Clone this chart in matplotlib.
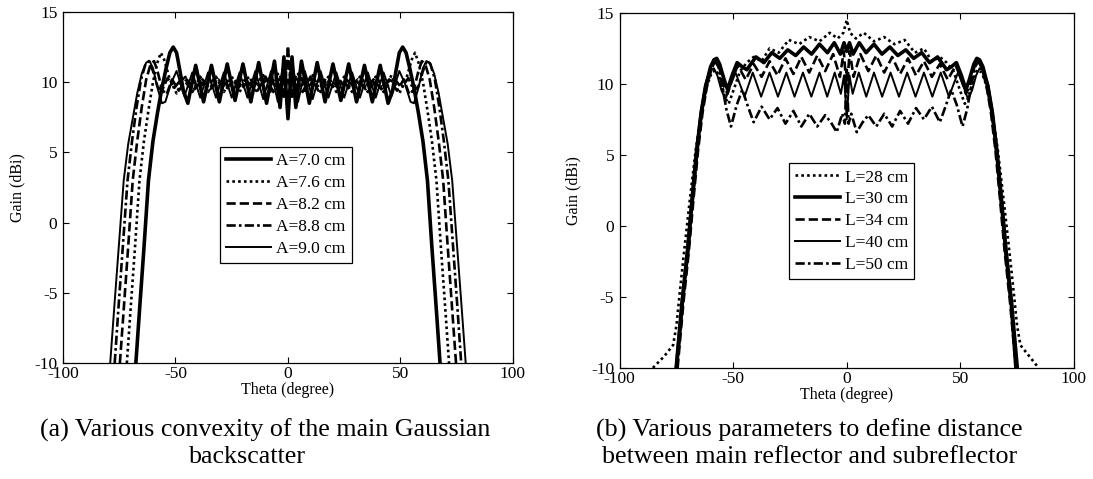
import matplotlib
matplotlib.use("Agg")
import matplotlib.pyplot as plt

plt.rcParams['font.family'] = ['Liberation Serif', 'DejaVu Serif']
plt.rcParams['axes.unicode_minus'] = False

# ---- (a) gain patterns for various convexity A ----
theta_a70 = [-67.6, -66, -64, -62, -60, -58, -56, -54, -52.5, -51, -49.5, -48, -46.5, -44.5, -41, -37.5, -34, -30.5, -27, -23.5, -20, -16.5, -13, -9.5, -6, -3.5, -1.8, 0,
             1.8, 3.5, 6, 9.5, 13, 16.5, 20, 23.5, 27, 30.5, 34, 37.5, 41, 44.5, 46.5, 48, 49.5, 51, 52.5, 54, 56, 58, 60, 62, 64, 66, 67.6]
gain_a70 = [-10, -6.3, -1.8, 3.0, 5.8, 7.8, 9.6, 11.1, 12.1, 12.5, 12.1, 10.8, 9.4, 8.5, 11.2, 8.6, 11.2, 8.6, 11.3, 8.7, 11.3, 8.6, 11.4, 8.5, 11.5, 8.2, 11.8, 7.4,
            11.8, 8.2, 11.5, 8.5, 11.4, 8.6, 11.3, 8.7, 11.3, 8.6, 11.2, 8.6, 11.2, 8.5, 9.4, 10.8, 12.1, 12.5, 12.1, 11.1, 9.6, 7.8, 5.8, 3.0, -1.8, -6.3, -10]

theta_a76 = [-71.6, -70, -68, -66, -64, -62, -60, -58, -56.5, -55, -52.5, -49.5, -46, -42.5, -39, -35.5, -32, -28.5, -25, -21.5, -18, -14.5, -11, -7.5, -4.5, -2.5, -1, 0,
             1, 2.5, 4.5, 7.5, 11, 14.5, 18, 21.5, 25, 28.5, 32, 35.5, 39, 42.5, 46, 49.5, 52.5, 55, 56.5, 58, 60, 62, 64, 66, 68, 70, 71.6]
gain_a76 = [-10, -6.3, -1.8, 3.0, 5.8, 8.0, 10.0, 11.4, 12.1, 11.6, 10.2, 9.2, 10.5, 9.3, 10.4, 9.3, 10.4, 9.3, 10.4, 9.3, 10.4, 9.3, 10.5, 9.2, 10.6, 9.0, 10.4, 12.3,
            10.4, 9.0, 10.6, 9.2, 10.5, 9.3, 10.4, 9.3, 10.4, 9.3, 10.4, 9.3, 10.4, 9.3, 10.5, 9.2, 10.2, 11.6, 12.1, 11.4, 10.0, 8.0, 5.8, 3.0, -1.8, -6.3, -10]

theta_a82 = [-74.7, -73, -71, -69, -67, -65, -63, -61, -59.5, -58, -56, -54, -51.5, -48.5, -45, -41.5, -38, -34.5, -31, -27.5, -24, -20.5, -17, -13.5, -10, -6.5, -3.5, -1.5, 0,
             1.5, 3.5, 6.5, 10, 13.5, 17, 20.5, 24, 27.5, 31, 34.5, 38, 41.5, 45, 48.5, 51.5, 54, 56, 58, 59.5, 61, 63, 65, 67, 69, 71, 73, 74.7]
gain_a82 = [-10, -6.2, -1.7, 3.0, 5.8, 8.2, 10.2, 11.3, 11.5, 10.8, 9.5, 9.1, 10.2, 9.4, 10.2, 9.5, 10.2, 9.5, 10.2, 9.5, 10.2, 9.5, 10.3, 9.4, 10.4, 9.3, 10.5, 8.8, 12.6,
            8.8, 10.5, 9.3, 10.4, 9.4, 10.3, 9.5, 10.2, 9.5, 10.2, 9.5, 10.2, 9.5, 10.2, 9.4, 10.2, 9.1, 9.5, 10.8, 11.5, 11.3, 10.2, 8.2, 5.8, 3.0, -1.7, -6.2, -10]

theta_a88 = [-77, -75.3, -73.3, -71.3, -69.3, -67.3, -65.3, -63.3, -61.8, -60, -58, -56, -53.5, -50.5, -47, -43.5, -40, -36.5, -33, -29.5, -26, -22.5, -19, -15.5, -12, -8.5, -5.5, -3, -1.2, 0,
             1.2, 3, 5.5, 8.5, 12, 15.5, 19, 22.5, 26, 29.5, 33, 36.5, 40, 43.5, 47, 50.5, 53.5, 56, 58, 60, 61.8, 63.3, 65.3, 67.3, 69.3, 71.3, 73.3, 75.3, 77]
gain_a88 = [-10, -6, -1.5, 3.0, 5.8, 8.2, 10.2, 11.3, 11.5, 10.8, 9.7, 9.4, 10.3, 9.6, 10.3, 9.6, 10.2, 9.6, 10.2, 9.6, 10.2, 9.6, 10.2, 9.6, 10.3, 9.5, 10.4, 9.3, 10.8, 11.5,
            10.8, 9.3, 10.4, 9.5, 10.3, 9.6, 10.2, 9.6, 10.2, 9.6, 10.2, 9.6, 10.2, 9.6, 10.3, 9.6, 10.3, 9.4, 9.7, 10.8, 11.5, 11.3, 10.2, 8.2, 5.8, 3.0, -1.5, -6, -10]

theta_a90 = [-79, -77, -75, -73, -71, -69, -67, -65, -63, -61.5, -60, -58, -56, -54.5, -52, -49.5, -46, -42.5, -39, -35.5, -32, -28.5, -25, -21.5, -18, -14.5, -11, -7.5, -4.5, -2.5, -1, 0,
             1, 2.5, 4.5, 7.5, 11, 14.5, 18, 21.5, 25, 28.5, 32, 35.5, 39, 42.5, 46, 49.5, 52, 54.5, 56, 58, 60, 61.5, 63, 65, 67, 69, 71, 73, 75, 77, 79]
gain_a90 = [-10, -5.6, -1.3, 3.0, 5.6, 7.4, 9.2, 10.6, 11.4, 11.5, 11.0, 9.6, 8.5, 8.6, 9.9, 10.8, 9.0, 10.7, 8.9, 10.7, 8.9, 10.7, 8.9, 10.7, 8.9, 10.8, 8.8, 10.8, 8.6, 10.9, 9.6, 10.2,
            9.6, 10.9, 8.6, 10.8, 8.8, 10.8, 8.9, 10.7, 8.9, 10.7, 8.9, 10.7, 8.9, 10.7, 9.0, 10.8, 9.9, 8.6, 8.5, 9.6, 11.0, 11.5, 11.4, 10.6, 9.2, 7.4, 5.6, 3.0, -1.3, -5.6, -10]

labels_a = ["A=7.0 cm", "A=7.6 cm", "A=8.2 cm", "A=8.8 cm", "A=9.0 cm"]

# ---- (b) gain patterns for various distance L ----
theta_l28 = [-85.4, -80.5, -76.5, -75, -73.5, -71.5, -69, -66.5, -64, -61.5, -59.5, -57.5, -55.5, -53.5, -52, -50, -47, -44, -41, -37.5, -34, -30, -25.5, -21, -16.5, -12, -7.5, -4, -1.5, 0,
             1.5, 4, 7.5, 12, 16.5, 21, 25.5, 30, 34, 37.5, 41, 44, 47, 50, 52, 53.5, 55.5, 57.5, 59.5, 61.5, 64, 66.5, 69, 71.5, 73.5, 75, 76.5, 80.5, 84.5]
gain_l28 = [-10, -9.2, -8.4, -7.0, -4.6, -1.6, 2.0, 5.4, 8.0, 9.9, 10.8, 11.0, 10.2, 9.0, 8.6, 9.5, 10.9, 11.5, 11.9, 11.6, 12.5, 12.2, 13.1, 12.8, 13.3, 13.0, 13.6, 13.2, 13.6, 14.5,
            13.6, 13.2, 13.6, 13.0, 13.3, 12.8, 13.1, 12.2, 12.5, 11.6, 11.9, 11.5, 10.9, 9.5, 8.6, 9.0, 10.2, 11.0, 10.8, 9.9, 8.0, 5.4, 2.0, -1.6, -4.6, -7.0, -8.4, -9.2, -10]

theta_l30 = [-75, -72.5, -70, -68, -66, -64, -62, -60, -58.5, -57.3, -56, -54, -52.5, -50.5, -48.3, -46, -44, -40, -36.5, -33, -29.5, -26, -22.5, -19, -15.5, -12, -8.5, -5.5, -2.8, -1.2, 0,
             1.2, 2.8, 5.5, 8.5, 12, 15.5, 19, 22.5, 26, 29.5, 33, 36.5, 40, 44, 46, 48.3, 50.5, 52.5, 54, 56, 57.3, 58.5, 60, 62, 64, 66, 68, 70, 72.5, 74.5]
gain_l30 = [-10, -5.5, -1.7, 1.9, 5.3, 8.0, 9.9, 11.2, 11.7, 11.8, 11.4, 10.3, 9.6, 10.6, 11.5, 11.2, 11.0, 11.9, 11.5, 12.2, 11.8, 12.4, 12.0, 12.6, 12.1, 12.8, 12.2, 12.9, 12.1, 12.9, 12.3,
            12.9, 12.1, 12.9, 12.2, 12.8, 12.1, 12.6, 12.0, 12.4, 11.8, 12.2, 11.5, 11.9, 11.0, 11.2, 11.5, 10.6, 9.6, 10.3, 11.4, 11.8, 11.7, 11.2, 9.9, 8.0, 5.3, 1.9, -1.7, -5.5, -10]

theta_l34 = [-74.5, -72, -69.5, -67.5, -65.5, -63.5, -61.5, -59.5, -58, -57, -55.5, -54, -52.5, -50.5, -48, -44.5, -41, -37.5, -34, -30.5, -27, -23.5, -20, -16.5, -13, -9.5, -6, -3, -1.3, 0,
             1.3, 3, 6, 9.5, 13, 16.5, 20, 23.5, 27, 30.5, 34, 37.5, 41, 44.5, 48, 50.5, 52.5, 54, 55.5, 57, 58, 59.5, 61.5, 63.5, 65.5, 67.5, 69.5, 72, 74.5]
gain_l34 = [-10, -5.5, -1.7, 1.9, 5.3, 8.0, 9.9, 11.1, 11.6, 11.6, 10.8, 9.8, 9.3, 10.3, 11.3, 10.3, 11.4, 10.5, 11.6, 10.6, 11.8, 10.7, 11.9, 10.8, 12.0, 10.9, 12.1, 10.5, 12.3, 9.5,
            12.3, 10.5, 12.1, 10.9, 12.0, 10.8, 11.9, 10.7, 11.8, 10.6, 11.6, 10.5, 11.4, 10.3, 11.3, 10.3, 9.3, 9.8, 10.8, 11.6, 11.6, 11.1, 9.9, 8.0, 5.3, 1.9, -1.7, -5.5, -10]

theta_l40 = [-75.5, -73, -70.5, -68.5, -66.5, -64.5, -62.5, -60.5, -58.5, -57, -55.3, -53.5, -51, -49, -45, -41.4, -37.7, -34, -30.3, -26.6, -23, -19.3, -15.6, -12, -8.6, -5.3, -2.6, -1.2, 0,
             1.2, 2.6, 5.3, 8.6, 12, 15.6, 19.3, 23, 26.6, 30.3, 34, 37.7, 41.4, 45, 49, 51, 53.5, 55.3, 57, 58.5, 60.5, 62.5, 64.5, 66.5, 68.5, 70.5, 73, 75.5]
gain_l40 = [-10, -5.5, -1.7, 1.9, 5.3, 8.0, 9.9, 10.9, 11.1, 10.6, 9.6, 8.9, 10.0, 10.8, 9.1, 10.8, 9.1, 10.8, 9.1, 10.8, 9.1, 10.8, 9.1, 10.8, 9.1, 10.8, 9.3, 10.6, 7.5,
            10.6, 9.3, 10.8, 9.1, 10.8, 9.1, 10.8, 9.1, 10.8, 9.1, 10.8, 9.1, 10.8, 9.1, 10.8, 10.0, 8.9, 9.6, 10.6, 11.1, 10.9, 9.9, 8.0, 5.3, 1.9, -1.7, -5.5, -10]

theta_l50 = [-74.8, -72.3, -69.8, -67.8, -65.8, -63.8, -61.8, -59.8, -58, -56.5, -55, -53, -51, -48.5, -46, -43.5, -41, -37.5, -34, -30.5, -27, -23.5, -20, -16.5, -13, -9.5, -7, -4.4, -2, -0.8, 0,
             0.8, 2, 4.4, 7, 9.5, 13, 16.5, 20, 23.5, 27, 30.5, 34, 37.5, 41, 43.5, 46, 48.5, 51, 53, 55, 56.5, 58, 59.8, 61.8, 63.8, 65.8, 67.8, 69.8, 72.3, 74.8]
gain_l50 = [-10, -5.5, -1.7, 1.9, 5.3, 8.0, 9.9, 11.1, 11.6, 11.2, 10.0, 8.2, 7.0, 8.5, 9.6, 8.4, 7.3, 8.4, 7.5, 8.3, 7.2, 8.1, 7.0, 7.9, 7.0, 7.8, 7.3, 6.6, 7.9, 7.2, 11.0,
            7.2, 7.9, 6.6, 7.3, 7.8, 7.0, 7.9, 7.0, 8.1, 7.2, 8.3, 7.5, 8.4, 7.3, 8.4, 9.6, 8.5, 7.0, 8.2, 10.0, 11.2, 11.6, 11.1, 9.9, 8.0, 5.3, 1.9, -1.7, -5.5, -10]

labels_b = ["L=28 cm", "L=30 cm", "L=34 cm", "L=40 cm", "L=50 cm"]

xticks = [-100, -50, 0, 50, 100]
yticks = [-10, -5, 0, 5, 10, 15]

# line styles (MATLAB-like)
common = dict(color='black', solid_joinstyle='round', dash_joinstyle='round')
thick = dict(linestyle='-', linewidth=2.6, **common)
thin = dict(linestyle='-', linewidth=1.4, **common)
dotted = dict(linestyle=(0, (1, 1.2)), linewidth=1.9, **common)
dashed = dict(linestyle=(0, (3.5, 1.5)), linewidth=1.9, **common)
dashdot = dict(linestyle=(0, (3.5, 1.2, 1, 1.2)), linewidth=1.9, **common)

fig = plt.figure(figsize=(10.93, 4.79), dpi=100)
ax1 = fig.add_axes([0.0576, 0.242, 0.4117, 0.733])
ax2 = fig.add_axes([0.567, 0.232, 0.4154, 0.741])

ax1.plot(theta_a70, gain_a70, label=labels_a[0], **thick)
ax1.plot(theta_a76, gain_a76, label=labels_a[1], **dotted)
ax1.plot(theta_a82, gain_a82, label=labels_a[2], **dashed)
ax1.plot(theta_a88, gain_a88, label=labels_a[3], **dashdot)
ax1.plot(theta_a90, gain_a90, label=labels_a[4], **thin)

ax2.plot(theta_l28, gain_l28, label=labels_b[0], **dotted)
ax2.plot(theta_l30, gain_l30, label=labels_b[1], **thick)
ax2.plot(theta_l34, gain_l34, label=labels_b[2], **dashed)
ax2.plot(theta_l40, gain_l40, label=labels_b[3], **thin)
ax2.plot(theta_l50, gain_l50, label=labels_b[4], **dashdot)

for ax in (ax1, ax2):
    ax.set_xlim(-100, 100)
    ax.set_ylim(-10, 15)
    ax.set_xticks(xticks)
    ax.set_yticks(yticks)
    ax.tick_params(direction='in', top=True, right=True, length=4, width=0.8,
                   labelsize=12.5, colors='black')
    ax.tick_params(axis='x', pad=2)
    ax.tick_params(axis='y', pad=4)
    for s in ax.spines.values():
        s.set_linewidth(0.9)
    ax.set_xlabel("Theta (degree)", fontsize=11.5)
    ax.set_ylabel("Gain (dBi)", fontsize=11.5)
    ax.xaxis.set_label_coords(0.5, -0.053)
    ax.yaxis.set_label_coords(-0.084, 0.5)

leg_opts = dict(loc='lower left', fontsize=12.5, frameon=True, fancybox=False,
                edgecolor='black', framealpha=1, handlelength=2.6, handletextpad=0.3,
                borderpad=0.35, labelspacing=0.33, borderaxespad=0)
leg1 = ax1.legend(bbox_to_anchor=(0.349, 0.285), **leg_opts)
leg2 = ax2.legend(bbox_to_anchor=(0.372, 0.25), **leg_opts)
for leg in (leg1, leg2):
    leg.get_frame().set_linewidth(0.9)

# captions
cap = 18.7
fig.text(265 / 1093, 1 - 430 / 479, "(a) Various convexity of the main Gaussian",
         ha='center', va='center', fontsize=cap)
fig.text(247 / 1093, 1 - 457 / 479, "backscatter", ha='center', va='center', fontsize=cap)
fig.text(809 / 1093, 1 - 430 / 479, "(b) Various parameters to define distance",
         ha='center', va='center', fontsize=cap)
fig.text(810 / 1093, 1 - 457 / 479, "between main reflector and subreflector",
         ha='center', va='center', fontsize=cap)

fig.savefig("out.png", dpi=100)
